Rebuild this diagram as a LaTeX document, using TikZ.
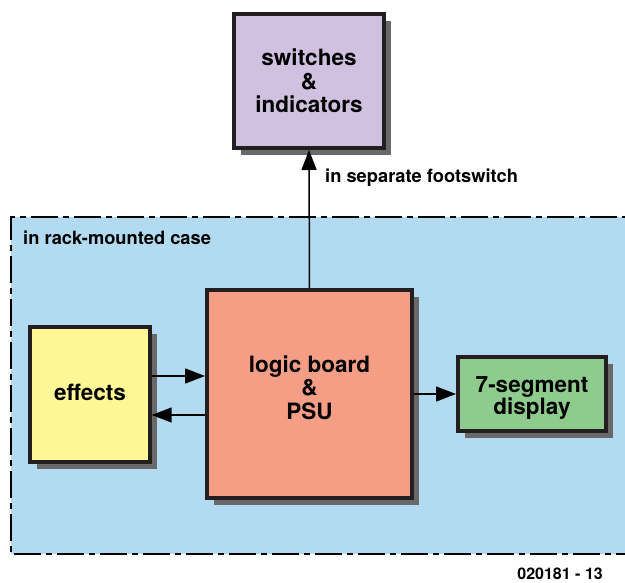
\documentclass[tikz,border=0pt]{standalone}
\usepackage{fontspec}
\setmainfont{TeX Gyre Heros}
\usetikzlibrary{arrows.meta,shadows}
\definecolor{caseblue}{RGB}{178,219,242}
\definecolor{boxedge}{RGB}{35,31,32}
\definecolor{shade}{RGB}{105,105,105}
\definecolor{lavender}{RGB}{209,193,224}
\definecolor{salmon}{RGB}{245,158,134}
\definecolor{paleyellow}{RGB}{255,246,150}
\definecolor{segreen}{RGB}{142,204,142}
\tikzset{
  x=1pt, y=-1pt,
  block/.style={draw=boxedge, line width=4pt, inner sep=0pt,
    drop shadow={shadow xshift=7pt, shadow yshift=-7pt, fill=shade, opacity=1}},
  blocktext/.style={align=center, inner sep=0pt,
    font=\bfseries\fontsize{22.5}{23.5}\selectfont},
  arr/.style={line width=1.5pt, draw=black, -{Triangle[length=20pt,width=15pt]}},
  note/.style={font=\bfseries\fontsize{18.3}{20}\selectfont, inner sep=0pt},
}
\begin{document}
\begin{tikzpicture}
\useasboundingbox (0,0) rectangle (625,583);
\clip (0,0) rectangle (625,583);
% rack-mounted case
\fill[caseblue] (11,217) rectangle (660,554);
\draw[line width=2.5pt, dash pattern=on 27pt off 5pt on 6pt off 5pt]
  (660,217) -- (11,217) -- (11,554) -- (660,554);
\node[note, anchor=west] (rack) at (23,238) {in rack-mounted case};
% blocks
\node[block, fill=lavender, minimum width=150pt, minimum height=134pt] (sw) at (309,81) {};
\node[block, fill=paleyellow, minimum width=119.4pt, minimum height=135pt] (fx) at (90,394.5) {};
\node[block, fill=salmon, minimum width=205pt, minimum height=208pt] (logic) at (309.5,394) {};
\node[block, fill=segreen, minimum width=148pt, minimum height=74pt] (seg) at (532,394) {};
% block captions
\node[blocktext] (swtext) at (sw.center) {switches\\\&\\indicators};
\node[blocktext] (fxtext) at ([yshift=2pt]fx.center) {effects};
\node[blocktext] (logictext) at ([yshift=6.6pt]logic.center) {logic board\\\&\\PSU};
\node[blocktext, font=\bfseries\fontsize{22.5}{22}\selectfont] (segtext) at ([yshift=-3.5pt]seg.center) {7-segment\\display};
% connections
\draw[arr] (logic.north) -- (sw.south);
\draw[arr] ([yshift=18.5pt]fx.east) -- ([yshift=18.5pt]fx.east -| logic.west);
\draw[arr] ([yshift=-20.5pt]fx.east -| logic.west) -- ([yshift=-20.5pt]fx.east);
\draw[arr] (logic.east) -- (seg.west);
\node[note, anchor=west] (foot) at (325,178) {in separate footswitch};
\node[note, anchor=east, font=\bfseries\fontsize{16}{18}\selectfont] (fig) at (603,574) {020181 - 13};
\end{tikzpicture}
\end{document}
